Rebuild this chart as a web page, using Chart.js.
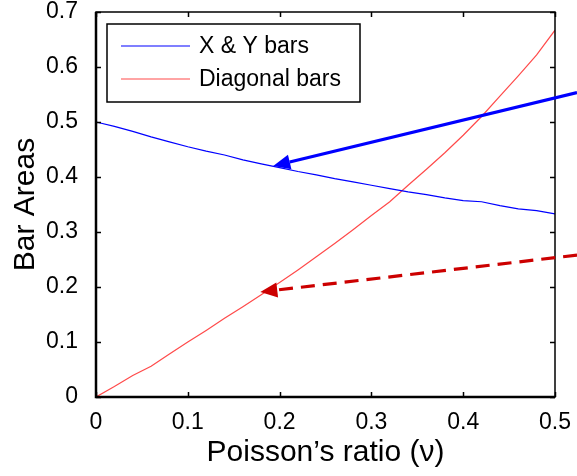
<!DOCTYPE html>
<html>
<head>
<meta charset="utf-8">
<script src="https://cdn.jsdelivr.net/npm/chart.js@4.4.1/dist/chart.umd.min.js"></script>
<style>
  html, body { margin: 0; padding: 0; background: #fff; }
  canvas { display: block; }
</style>
</head>
<body>
<canvas id="chart" width="577" height="476"></canvas>
<script>
// --- DATA ---
const nu = [0, 0.02, 0.04, 0.06, 0.08, 0.10, 0.12, 0.14, 0.16, 0.18, 0.20, 0.22, 0.24,
            0.26, 0.28, 0.30, 0.32, 0.34, 0.36, 0.38, 0.40, 0.42, 0.44, 0.46, 0.48, 0.50];
const xyBars = [0.500, 0.492, 0.483, 0.473, 0.464, 0.455, 0.447, 0.440, 0.431, 0.424, 0.417, 0.410, 0.404,
                0.397, 0.391, 0.385, 0.379, 0.373, 0.368, 0.362, 0.357, 0.355, 0.348, 0.342, 0.339, 0.333];
const diagBars = [0.000, 0.019, 0.039, 0.056, 0.078, 0.100, 0.121, 0.143, 0.164, 0.186, 0.208, 0.231, 0.255,
                  0.279, 0.304, 0.330, 0.355, 0.385, 0.414, 0.444, 0.476, 0.510, 0.547, 0.584, 0.622, 0.667];
const seriesLabels = ['X & Y bars', 'Diagonal bars'];
const xTicks = [0, 0.1, 0.2, 0.3, 0.4, 0.5];
const yTicks = [0, 0.1, 0.2, 0.3, 0.4, 0.5, 0.6, 0.7];

// arrows: [from x, from y, to x, to y] in data units
const blueArrow = [0.524, 0.5535, 0.193, 0.420];
const redArrow = [0.524, 0.258, 0.179, 0.191];

const FONT = "'Liberation Sans', Arial, sans-serif";
const BLUE = '#0000ff';
const RED = '#ff4a4a';

function fmt(v) {
  return String(Number(v.toFixed(1)));
}

// frame + inward ticks + legend + arrows
const decorations = {
  id: 'decorations',
  afterDatasetsDraw(chart) {
    const { ctx, chartArea: a, scales: { x, y } } = chart;
    ctx.save();
    ctx.strokeStyle = '#000';
    // box
    ctx.lineWidth = 1.5;
    ctx.strokeRect(a.left, a.top, a.right - a.left, a.bottom - a.top);
    ctx.lineWidth = 2.5;
    ctx.beginPath();
    ctx.moveTo(a.left, a.top); ctx.lineTo(a.left, a.bottom); ctx.lineTo(a.right, a.bottom);
    ctx.stroke();
    // ticks
    ctx.lineWidth = 1.5;
    ctx.beginPath();
    xTicks.forEach(v => {
      const px = Math.round(x.getPixelForValue(v)) + 0.5;
      ctx.moveTo(px, a.bottom); ctx.lineTo(px, a.bottom - 5);
      ctx.moveTo(px, a.top); ctx.lineTo(px, a.top + 5);
    });
    yTicks.forEach(v => {
      const py = Math.round(y.getPixelForValue(v)) + 0.5;
      ctx.moveTo(a.left, py); ctx.lineTo(a.left + 5, py);
      ctx.moveTo(a.right, py); ctx.lineTo(a.right - 5, py);
    });
    ctx.stroke();

    // legend
    const lx = a.left + 11, ly = a.top + 12, lw = 253, lh = 78;
    ctx.fillStyle = '#fff';
    ctx.fillRect(lx, ly, lw, lh);
    ctx.lineWidth = 1.5;
    ctx.strokeRect(lx, ly, lw, lh);
    ctx.font = '23px ' + FONT;
    ctx.textBaseline = 'middle';
    chart.data.datasets.forEach((ds, i) => {
      const yy = ly + 22 + i * 33;
      ctx.strokeStyle = ds.borderColor;
      ctx.lineWidth = 1.2;
      ctx.beginPath();
      ctx.moveTo(lx + 14, yy); ctx.lineTo(lx + 83, yy);
      ctx.stroke();
      ctx.fillStyle = '#000';
      ctx.fillText(ds.label, lx + 92, yy + 1);
    });

    // arrows
    drawArrow(ctx, x, y, blueArrow, BLUE, []);
    drawArrow(ctx, x, y, redArrow, '#cc0000', [14, 8]);
    ctx.restore();
  }
};

function drawArrow(ctx, x, y, arr, color, dash) {
  const x0 = x.getPixelForValue(arr[0]), y0 = y.getPixelForValue(arr[1]);
  const x1 = x.getPixelForValue(arr[2]), y1 = y.getPixelForValue(arr[3]);
  const ang = Math.atan2(y1 - y0, x1 - x0);
  const headLen = 17, headW = 7.5;
  const bx = x1 - headLen * Math.cos(ang), by = y1 - headLen * Math.sin(ang);
  ctx.save();
  ctx.strokeStyle = color;
  ctx.fillStyle = color;
  ctx.lineWidth = 3.2;
  ctx.setLineDash(dash);
  ctx.beginPath();
  ctx.moveTo(x0, y0); ctx.lineTo(bx, by);
  ctx.stroke();
  ctx.setLineDash([]);
  ctx.beginPath();
  ctx.moveTo(x1, y1);
  ctx.lineTo(bx + headW * Math.sin(ang), by - headW * Math.cos(ang));
  ctx.lineTo(bx - headW * Math.sin(ang), by + headW * Math.cos(ang));
  ctx.closePath();
  ctx.fill();
  ctx.restore();
}

new Chart(document.getElementById('chart'), {
  type: 'line',
  data: {
    labels: nu,
    datasets: [
      { label: seriesLabels[0], data: nu.map((v, i) => ({ x: v, y: xyBars[i] })),
        borderColor: BLUE, borderWidth: 1.2, pointRadius: 0, tension: 0 },
      { label: seriesLabels[1], data: nu.map((v, i) => ({ x: v, y: diagBars[i] })),
        borderColor: RED, borderWidth: 1.2, pointRadius: 0, tension: 0 }
    ]
  },
  options: {
    responsive: false,
    animation: false,
    layout: { padding: { top: 12, right: 22, left: 0, bottom: 0 } },
    plugins: { legend: { display: false }, tooltip: { enabled: false } },
    scales: {
      x: {
        type: 'linear', min: 0, max: 0.5,
        afterBuildTicks: s => { s.ticks = xTicks.map(v => ({ value: v })); },
        afterFit: s => { s.height = 79; s.paddingLeft = 0; s.paddingRight = 0; },
        grid: { display: false },
        border: { display: false },
        ticks: { color: '#000', font: { family: FONT, size: 23 }, padding: 4,
                 maxRotation: 0, callback: v => fmt(v) },
        title: { display: true, text: 'Poisson’s ratio (ν)', color: '#000',
                 font: { family: FONT, size: 30 }, padding: { top: 0, bottom: 5 } }
      },
      y: {
        type: 'linear', min: 0, max: 0.7,
        afterBuildTicks: s => { s.ticks = yTicks.map(v => ({ value: v })); },
        afterFit: s => { s.width = 96; s.paddingTop = 0; s.paddingBottom = 0; },
        grid: { display: false },
        border: { display: false },
        ticks: { color: '#000', font: { family: FONT, size: 23 }, padding: 10,
                 callback: v => fmt(v) },
        title: { display: true, text: 'Bar Areas', color: '#000',
                 font: { family: FONT, size: 30 }, padding: { top: 8, bottom: 0 } }
      }
    }
  },
  plugins: [decorations]
});
</script>
</body>
</html>
